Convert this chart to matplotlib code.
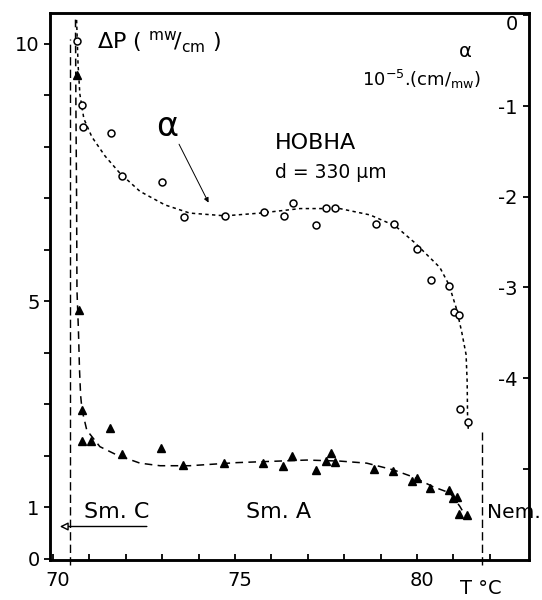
import matplotlib
matplotlib.use("Agg")
import matplotlib.pyplot as plt
from matplotlib.transforms import ScaledTranslation

plt.rcParams["mathtext.default"] = "regular"
plt.rcParams["font.family"] = ["DejaVu Sans"]

# alpha (right axis, 10^-5 cm/mW) - open circles
t_alpha = [70.65, 70.79, 70.83, 71.59, 71.91, 73.00, 73.61, 74.74, 75.79, 76.34,
           76.60, 77.23, 77.49, 77.76, 78.87, 79.36, 80.01, 80.38, 80.89, 81.03,
           81.15, 81.19, 81.39]
alpha = [-0.28, -0.99, -1.23, -1.30, -1.77, -1.84, -2.22, -2.21, -2.17, -2.21,
         -2.07, -2.31, -2.12, -2.12, -2.30, -2.30, -2.58, -2.92, -2.98, -3.27,
         -3.30, -4.34, -4.48]

# threshold power dP (left axis, mW/cm) - filled triangles
t_dp = [70.65, 70.71, 70.79, 70.80, 71.04, 71.56, 71.91, 72.98, 73.58, 74.70,
        75.76, 76.31, 76.56, 77.22, 77.50, 77.64, 77.74, 78.82, 79.35, 79.87,
        79.99, 80.36, 80.88, 81.00, 81.11, 81.16, 81.37]
dp = [9.40, 4.83, 2.89, 2.29, 2.29, 2.54, 2.04, 2.16, 1.83, 1.86,
      1.86, 1.81, 1.99, 1.73, 1.91, 2.05, 1.89, 1.74, 1.71, 1.51,
      1.57, 1.37, 1.33, 1.18, 1.20, 0.87, 0.85]

# hand-drawn guide curves
t_alpha_fit = [70.65, 70.69, 70.74, 70.85, 71.07, 71.43, 71.84, 72.39, 73.08, 73.76,
               74.73, 75.69, 76.79, 77.88, 78.71, 79.40, 79.95, 80.63, 80.88, 81.09,
               81.23, 81.35, 81.38, 81.39, 81.41]
alpha_fit = [-0.05, -0.54, -0.87, -1.14, -1.34, -1.55, -1.74, -1.94, -2.09, -2.18,
             -2.21, -2.18, -2.13, -2.13, -2.20, -2.32, -2.51, -2.78, -2.97, -3.24,
             -3.49, -3.74, -4.04, -4.40, -4.56]

t_dp_fit = [70.62, 70.63, 70.65, 70.66, 70.70, 70.73, 70.76, 70.80, 70.93, 71.29,
            71.75, 72.39, 72.94, 73.76, 75.05, 76.97, 77.88, 78.62, 79.35, 79.90,
            80.45, 80.91, 81.18, 81.32]
dp_fit = [10.47, 8.91, 6.97, 5.22, 4.45, 3.67, 3.18, 2.89, 2.50, 2.18,
          2.02, 1.86, 1.81, 1.81, 1.87, 1.92, 1.90, 1.86, 1.73, 1.59,
          1.40, 1.28, 1.02, 0.85]

t_smc = 70.47   # Sm.C - Sm.A transition
t_nem = 81.79   # Sm.A - Nematic transition

fig = plt.figure(figsize=(5.42, 6.0), dpi=100)
ax = fig.add_axes([0.0923, 0.0667, 0.8838, 0.9117])
ax2 = ax.twinx()

ax.set_xlim(69.92, 83.08)
ax.set_ylim(-0.02, 10.60)
ax2.set_ylim(-6.005, 0.027)

for a in (ax, ax2):
    for s in a.spines.values():
        s.set_linewidth(1.8)

# curves and points
ax2.plot(t_alpha_fit, alpha_fit, color="black", lw=1.1, ls=(0, (2.2, 2.2)))
ax2.plot(t_alpha, alpha, "o", mfc="white", mec="black", ms=5, mew=1.1)
ax.plot(t_dp_fit, dp_fit, color="black", lw=1.1, ls=(0, (5, 3.5)))
ax.plot(t_dp, dp, "^", color="black", ms=6)

# phase transition lines
ax.plot([t_smc, t_smc], [-0.12, 10.1], color="black", lw=1.0,
        ls=(0, (6, 3)), clip_on=False)
ax.plot([t_nem, t_nem], [-0.12, 2.47], color="black", lw=1.0,
        ls=(0, (6, 3)), clip_on=False)

# ticks
ax.set_xticks([70, 75, 80])
ax.set_xticks(range(70, 83), minor=True)
ax.set_yticks([0, 1, 5, 10])
ax.set_yticks(range(0, 11), minor=True)
ax.tick_params(axis="x", which="both", direction="in", length=4, width=1.3,
               labelsize=14, pad=8)
ax.tick_params(axis="y", which="both", direction="out", length=4, width=1.3,
               labelsize=14)
shift = ScaledTranslation(5 / 100, 0, fig.dpi_scale_trans)
for lbl in ax.get_xticklabels():
    lbl.set_transform(lbl.get_transform() + shift)

ax2.set_yticks([0, -1, -2, -3, -4, -5], labels=["0", "-1", "-2", "-3", "-4", ""])
ax2.tick_params(axis="y", direction="in", length=4, width=1.3, labelsize=14,
                pad=-8)
for lbl in ax2.get_yticklabels():
    lbl.set_horizontalalignment("right")
ax2.get_yticklabels()[0].set_verticalalignment("top")

# labels / annotations
ax.text(71.21, 10.04, r"$\Delta$P ( $^{mw}\!/_{cm}$ )", fontsize=16,
        ha="left", va="center")
ax.text(81.32, 9.86, "α", fontsize=14, ha="center", va="center")
ax.text(78.49, 9.30, r"10$^{-5}$.(cm$/_{mw}$)", fontsize=13, ha="left",
        va="center")
ax.text(76.10, 8.08, "HOBHA", fontsize=16, ha="left", va="center")
ax.text(76.10, 7.51, "d = 330 µm", fontsize=13.5, ha="left", va="center")
ax.text(73.13, 8.39, "α", fontsize=24, ha="center", va="center")
ax.annotate("", xy=(74.31, 6.87), xytext=(73.43, 8.10),
            arrowprops=dict(arrowstyle="-|>", color="black", lw=0.7,
                            mutation_scale=7))

ax.text(71.76, 0.91, "Sm. C", fontsize=16, ha="center", va="center")
ax.text(76.21, 0.91, "Sm. A", fontsize=16, ha="center", va="center")
ax.text(81.93, 0.91, "Nem.", fontsize=14.5, ha="left", va="center",
        clip_on=False)
ax.annotate("", xy=(70.19, 0.63), xytext=(72.58, 0.63),
            arrowprops=dict(arrowstyle="-|>", fc="white", ec="black", lw=1.0,
                            mutation_scale=12, shrinkA=0, shrinkB=0))
ax.text(81.76, -0.58, "T °C", fontsize=14, ha="center", va="center",
        clip_on=False)

fig.savefig("out.png", dpi=100)
